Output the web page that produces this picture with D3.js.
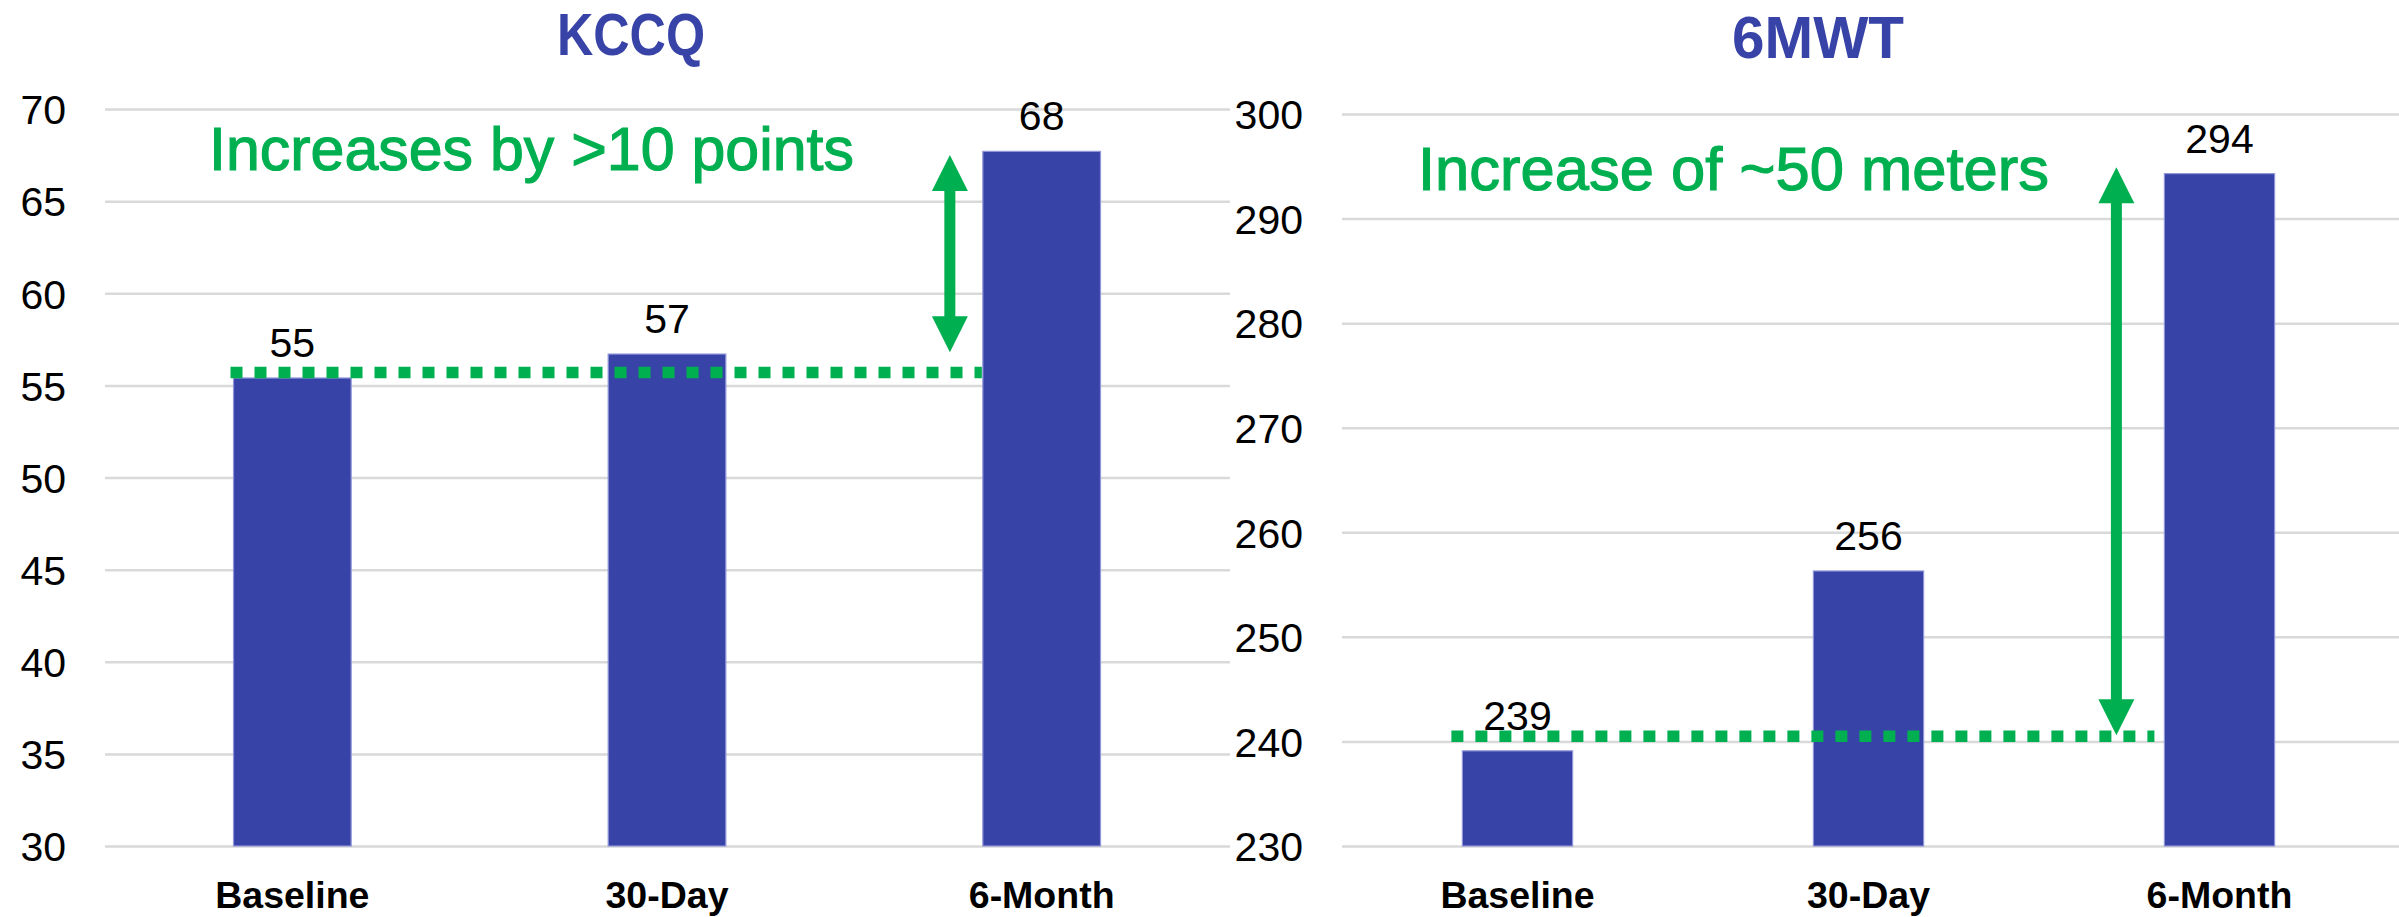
<!DOCTYPE html>
<html>
<head>
<meta charset="utf-8">
<script src="https://cdn.jsdelivr.net/npm/d3@7/dist/d3.min.js"></script>
<style>
  html, body { margin: 0; padding: 0; background: #ffffff; }
  svg { display: block; }
  text { font-family: "Liberation Sans", Arial, sans-serif; }
</style>
</head>
<body>
<svg id="chart" width="2399" height="917"></svg>
<script>
// ---------- DATA ----------
const categories = ["Baseline", "30-Day", "6-Month"];

const kccqValues = [55.4, 56.7, 67.7];
const kccqLabels = ["55", "57", "68"];
const kccqTicks = [30, 35, 40, 45, 50, 55, 60, 65, 70];
const kccqRef = 55.7;
const kccqArrow = [56.8, 67.5];
const kccqNote = "Increases by >10 points";

const mwtValues = [239.1, 256.3, 294.3];
const mwtLabels = ["239", "256", "294"];
const mwtTicks = [230, 240, 250, 260, 270, 280, 290, 300];
const mwtRef = 240.5;
const mwtArrow = [240.6, 294.9];
const mwtNote = "Increase of ~50 meters";

// ---------- STYLE ----------
const BAR = "#3843A8";
const BAR_EDGE = "#8f95d8";
const GREEN = "#00B050";
const GRID = "#d9d9d9";

const svg = d3.select("#chart");

function drawPanel(cfg) {
  const g = svg.append("g");
  const x = d3.scaleBand()
    .domain(categories)
    .range([cfg.x0, cfg.x1])
    .paddingInner(0.686)
    .paddingOuter(0.343);
  const y = d3.scaleLinear()
    .domain([cfg.ticks[0], cfg.ticks[cfg.ticks.length - 1]])
    .range([846, cfg.yTop]);

  // gridlines + y tick labels
  const yAxis = d3.axisLeft(y)
    .tickValues(cfg.ticks)
    .tickSize(-(cfg.gridEnd - cfg.x0))
    .tickPadding(39)
    .tickFormat(d3.format("d"));
  const ya = g.append("g")
    .attr("transform", `translate(${cfg.x0},0)`)
    .call(yAxis);
  ya.select(".domain").remove();
  ya.selectAll(".tick line").attr("stroke", GRID).attr("stroke-width", 2.5);
  ya.selectAll(".tick text")
    .attr("fill", "#000")
    .attr("font-size", 41)
    .attr("dy", "0.36em");

  // x axis labels
  const xa = g.append("g")
    .attr("transform", `translate(0,846)`)
    .call(d3.axisBottom(x).tickSize(0).tickPadding(0));
  xa.select(".domain").remove();
  xa.selectAll(".tick text")
    .attr("fill", "#000")
    .attr("font-size", 37.5)
    .attr("font-weight", "bold")
    .attr("y", 62)
    .attr("dy", 0);

  // bars
  g.selectAll("rect.bar")
    .data(cfg.values)
    .join("rect")
    .attr("class", "bar")
    .attr("x", (d, i) => x(categories[i]))
    .attr("width", x.bandwidth())
    .attr("y", d => y(d))
    .attr("height", d => y.range()[0] - y(d))
    .attr("fill", BAR)
    .attr("stroke", BAR_EDGE)
    .attr("stroke-width", 1.2);

  // value labels
  g.selectAll("text.val")
    .data(cfg.values)
    .join("text")
    .attr("class", "val")
    .attr("x", (d, i) => x(categories[i]) + x.bandwidth() / 2)
    .attr("y", d => y(d) - 21)
    .attr("text-anchor", "middle")
    .attr("font-size", 41)
    .attr("fill", "#000")
    .text((d, i) => cfg.labels[i]);

  // dotted reference line
  const refX0 = x(categories[0]) + cfg.refStart;
  const refX1 = x(categories[2]) + cfg.refEnd;
  g.append("line")
    .attr("x1", refX0).attr("x2", refX1)
    .attr("y1", y(cfg.ref)).attr("y2", y(cfg.ref))
    .attr("stroke", GREEN)
    .attr("stroke-width", 11.5)
    .attr("stroke-dasharray", "12,12");

  // double arrow
  const ax = x(categories[2]) + cfg.arrowOffset;
  const yt = y(cfg.arrow[1]);
  const yb = y(cfg.arrow[0]);
  const head = 36, hw = 18;
  g.append("line")
    .attr("x1", ax).attr("x2", ax)
    .attr("y1", yt + head - 2).attr("y2", yb - head + 2)
    .attr("stroke", GREEN).attr("stroke-width", 11);
  g.append("path")
    .attr("d", `M${ax},${yt} L${ax + hw},${yt + head} L${ax - hw},${yt + head} Z`)
    .attr("fill", GREEN);
  g.append("path")
    .attr("d", `M${ax},${yb} L${ax + hw},${yb - head} L${ax - hw},${yb - head} Z`)
    .attr("fill", GREEN);

  // annotation
  g.append("text")
    .attr("x", cfg.noteX)
    .attr("y", cfg.noteY)
    .attr("font-size", 62)
    .attr("fill", GREEN)
    .attr("stroke", GREEN)
    .attr("stroke-width", 1.2)
    .attr("textLength", cfg.noteW)
    .attr("lengthAdjust", "spacingAndGlyphs")
    .text(cfg.note);

  // title
  g.append("text")
    .attr("x", cfg.titleX)
    .attr("y", cfg.titleY)
    .attr("font-size", 60)
    .attr("font-weight", "bold")
    .attr("fill", BAR)
    .attr("textLength", cfg.titleW)
    .attr("lengthAdjust", "spacingAndGlyphs")
    .text(cfg.title);
}

drawPanel({
  title: "KCCQ", titleX: 557, titleY: 55, titleW: 148,
  x0: 105, x1: 1229, gridEnd: 1230, yTop: 109,
  ticks: kccqTicks, values: kccqValues, labels: kccqLabels,
  ref: kccqRef, refStart: -3, refEnd: -1,
  arrow: kccqArrow, arrowOffset: -33,
  note: kccqNote, noteX: 209, noteY: 170, noteW: 645
});

drawPanel({
  title: "6MWT", titleX: 1732, titleY: 58, titleW: 172,
  x0: 1342, x1: 2395, gridEnd: 2399, yTop: 114,
  ticks: mwtTicks, values: mwtValues, labels: mwtLabels,
  ref: mwtRef, refStart: -11, refEnd: -10,
  arrow: mwtArrow, arrowOffset: -48,
  note: mwtNote, noteX: 1418, noteY: 190, noteW: 631
});
</script>
</body>
</html>
